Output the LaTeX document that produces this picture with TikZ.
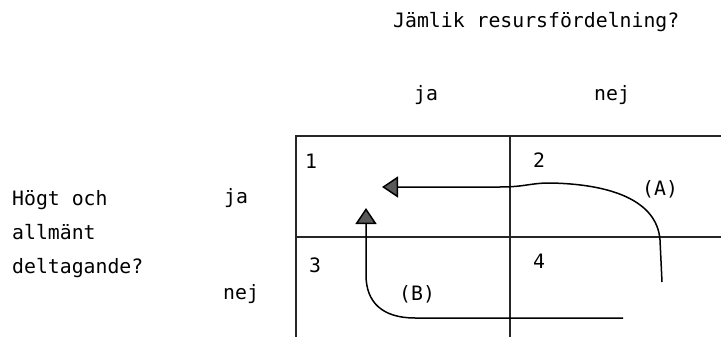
\documentclass[tikz,border=0pt]{standalone}
\usepackage{fontspec}
\setmainfont{DejaVu Sans Mono}
\usetikzlibrary{arrows.meta}

\tikzset{
    lbl/.style={inner sep=0pt, font=\fontsize{19.8}{34}\selectfont},
    grid/.style={line width=1.1pt, draw=black!85},
    flow/.style={line width=1.5pt, -{Triangle[length=16pt,width=21pt,fill=black!65]}},
}

\begin{document}
\begin{tikzpicture}[x=1pt, y=-1pt]
    \useasboundingbox (0,0) rectangle (721,337);

    % Headings
    \node[lbl, anchor=base west] (title) at (393,28) {Jämlik resursfördelning?};
    \node[lbl, anchor=base west] (colja) at (414,101) {ja};
    \node[lbl, anchor=base west] (colnej) at (594,101) {nej};

    \node[lbl, anchor=base west, align=left] (rowlabel) at (12,273) {Högt och\\allmänt\\deltagande?};
    \node[lbl, anchor=base west] (rowja) at (224,203) {ja};
    \node[lbl, anchor=base west] (rownej) at (223,299) {nej};

    % Table
    \coordinate (tl) at (296,136);
    \coordinate (tr) at (721,136);
    \coordinate (ml) at (296,237);
    \coordinate (mr) at (721,237);
    \coordinate (mt) at (510,136);
    \coordinate (mb) at (510,337);
    \coordinate (bl) at (296,337);
    \draw[grid] (bl) -- (tl) -- (tr);
    \draw[grid] (ml) -- (mr);
    \draw[grid] (mt) -- (mb);

    \node[lbl, anchor=base west] (c1) at (305,168) {1};
    \node[lbl, anchor=base west] (c2) at (533,167) {2};
    \node[lbl, anchor=base west] (c3) at (309,272) {3};
    \node[lbl, anchor=base west] (c4) at (533,268) {4};

    % Paths
    \coordinate (astart) at (662,282);
    \coordinate (aend) at (382,187);
    \draw[flow] (astart) -- (660,240) .. controls (657,200) and (610,184) .. (550,183) .. controls (530,183) and (525,187) .. (500,187) -- (aend);
    \node[lbl, anchor=base west] (labA) at (642,195) {(A)};

    \coordinate (bstart) at (623,318);
    \coordinate (bend) at (366,208);
    \draw[flow] (bstart) -- (415,318) .. controls (382,318) and (366,302) .. (366,275) -- (bend);
    \node[lbl, anchor=base west] (labB) at (399,300) {(B)};
\end{tikzpicture}
\end{document}
